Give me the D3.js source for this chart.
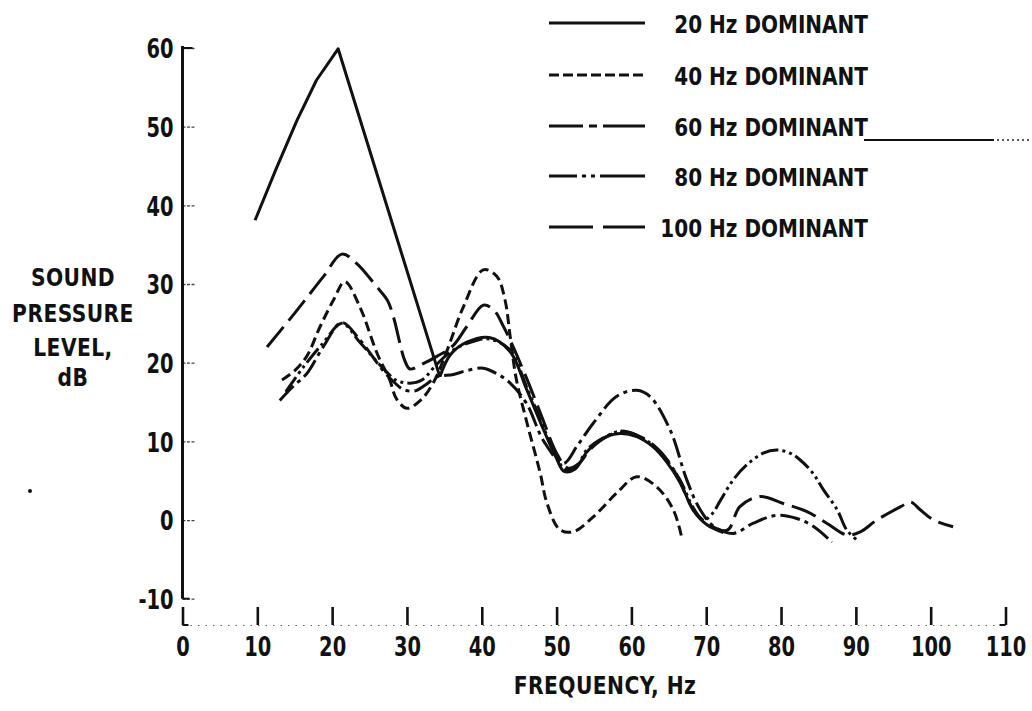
<!DOCTYPE html>
<html>
<head>
<meta charset="utf-8">
<script src="https://cdn.jsdelivr.net/npm/d3@7"></script>
<style>
  html, body { margin: 0; padding: 0; background: #fff; }
  svg { display: block; }
  text { font-family: 'DejaVu Sans Condensed', 'DejaVu Sans', sans-serif; font-weight: bold; fill: #111; }
</style>
</head>
<body>
<svg id="chart" width="1032" height="711"></svg>
<script>
// ---------- data (frequency Hz, sound pressure level dB) ----------
const xTicks = [0, 10, 20, 30, 40, 50, 60, 70, 80, 90, 100, 110];
const yTicks = [-10, 0, 10, 20, 30, 40, 50, 60];
const legendLabels = ["20 Hz DOMINANT", "40 Hz DOMINANT", "60 Hz DOMINANT", "80 Hz DOMINANT", "100 Hz DOMINANT"];
const yTitle = ["SOUND", "PRESSURE", "LEVEL,", "dB"];
const xTitle = "FREQUENCY, Hz";

// 20 Hz dominant: straight-segment part, then smooth part
const s20a = [[9.7,38.1],[12.5,44.6],[15.3,50.8],[17.9,55.9],[20.8,59.9],[34.4,18.2]];
const s20b = [[34.4,18.2],[35.8,21],[38,22.6],[41,23.2],[43.8,21.4],[46,16.6],[48.2,11.6],[50,7.8],[51,6.2],[52.5,6.5],[54,8.6],[56,10.3],[58.5,11],[60.7,10.6],[62.9,9.3],[64.7,7.4],[66.5,4.8],[68.3,1.2],[70.1,-0.6],[72.3,-1.6]];
const s40 = [[13.3,17.8],[15,19],[16.6,20.8],[18.4,24.6],[20.2,28],[21.7,30.3],[23.7,27.1],[26,21.2],[27.7,17.8],[28.6,15.4],[30,14.2],[31.8,15.2],[33.5,17.4],[35.3,21.4],[37.5,27],[40.2,31.8],[42,31],[43.1,28],[43.8,23.3],[44.6,18],[46,12.5],[47.8,6],[48.7,2.2],[50.4,-1.2],[52.2,-1.5],[54.9,0.4],[58,3.4],[60.7,5.5],[63.4,4.2],[65.6,1.3],[66.7,-2.1]];
const s60 = [[13,15.2],[14.8,17],[16.6,18.6],[18.8,22],[21.3,25.1],[23.7,22.9],[26.8,19],[28.2,17.6],[29.5,16.6],[31,16.4],[32.5,17.2],[34,18.2],[36.2,18.5],[38,19],[40.2,19.3],[42,18.6],[43.8,17.4],[46,14.8],[48.3,10],[50.9,7.2],[52.8,9.5],[54.9,12.3],[58,15.7],[60.7,16.5],[62.5,15.7],[65.2,11.4],[67.4,5.1],[69.2,1.3],[71,-0.8],[73.6,-1.7],[76.3,-0.4],[79.4,0.6],[82.1,0.2],[84.3,-0.8],[86.8,-2.8]];
const s80 = [[13.8,16.3],[16.2,19.5],[18.8,22.5],[21.3,25],[23.7,22.6],[26.8,19.3],[28.5,17.8],[30.4,17.4],[32,17.8],[34,19.8],[36,21.5],[38.5,22.6],[41,23],[43.8,21.6],[46,16.9],[48.2,11.9],[50,8],[51.2,6.4],[52.8,7],[54,8.9],[55.8,10.2],[58.5,11.3],[60.7,10.8],[62.9,9.5],[64.7,7.6],[66.5,5.1],[68.3,1.5],[69.6,0],[70.8,0.8],[71.9,2.5],[73.6,5.1],[75.4,7],[77.6,8.5],[79.4,8.9],[81.2,8.5],[82.6,7.6],[84.3,5.9],[85.7,3.8],[87.5,1.3],[88.8,-1.3],[90.1,-2.5]];
const s100 = [[11.3,22],[15,26.3],[18.8,30.9],[21.3,33.8],[23.3,32.6],[26,29.6],[27.4,27.9],[28.2,25.8],[29.7,20.3],[30.4,19.2],[32,19.8],[34,20.8],[36.2,22.2],[38,24.6],[40.2,27.3],[41.6,26.7],[42.9,24.6],[44.2,22],[46,18],[48,13.2],[50,8.5],[51.5,6.6],[53,7.2],[54.5,9],[56.7,10.6],[58.5,11.2],[60.7,10.8],[63,9.5],[65,7.4],[66.5,4.8],[68.3,1.3],[70.1,-0.4],[72.8,-1.3],[74.5,1.7],[77.2,3],[80.3,2.1],[83.4,1.1],[86.1,-0.4],[88.8,-1.9],[90.6,-1.5],[92.8,0],[96,1.7],[97.3,2.3],[98.6,1.3],[100.4,0],[103,-0.85]];

// ---------- drawing ----------
const svg = d3.select("#chart");
const x = d3.scaleLinear().domain([0, 110]).range([182.5, 1005.5]);
const y = d3.scaleLinear().domain([-10, 60]).range([598.7, 48]);

// horizontally condense text (keeps it real text)
function squeeze(sel, sx) {
  sel.each(function () {
    const t = d3.select(this);
    const tx = +t.attr("x") || 0, ty = +t.attr("y") || 0;
    t.attr("x", 0).attr("y", 0).attr("transform", `translate(${tx},${ty}) scale(${sx},1)`);
  });
}

const dashes = { s40: "10,5", s60: "20,5,4,5", s80: "18,4,3,4,3,4", s100: "26,8" };
const legendDashes = [null, "10,4", "34,6,8,6,42", "28,5,4,5,4,5,45", "44,10,42"];

// y axis (ticks to the right, labels left)
const yAxis = d3.axisLeft(y).tickValues(yTicks).tickSizeInner(-13).tickSizeOuter(0).tickPadding(9).tickFormat(d3.format("d"));
const gy = svg.append("g").attr("transform", `translate(${x(0)},0)`).call(yAxis);
gy.select(".domain").remove();
gy.selectAll(".tick line").attr("stroke", "#444").attr("stroke-width", 1.3).attr("stroke-dasharray", "3,1.5");
gy.selectAll(".tick text").style("font-size", "27px").attr("fill", "#111").attr("dy", "0.36em")
  .text(d => d < 0 ? "-" + Math.abs(d) : d);
squeeze(gy.selectAll(".tick text"), 0.8);
svg.append("line").attr("x1", x(0)).attr("x2", x(0)).attr("y1", y(60) - 2).attr("y2", y(-10))
  .attr("stroke", "#111").attr("stroke-width", 3);
svg.append("line").attr("x1", x(0)).attr("x2", x(0) + 7).attr("y1", y(-10)).attr("y2", y(-10))
  .attr("stroke", "#111").attr("stroke-width", 2);
svg.append("line").attr("x1", x(0)).attr("x2", x(0) + 10).attr("y1", y(60)).attr("y2", y(60))
  .attr("stroke", "#111").attr("stroke-width", 2);

// x axis (ticks upward, labels below)
const xBase = 625;
const xAxis = d3.axisBottom(x).tickValues(xTicks).tickSizeInner(-18).tickSizeOuter(0).tickPadding(12).tickFormat(d3.format("d"));
const gx = svg.append("g").attr("transform", `translate(0,${xBase})`).call(xAxis);
gx.select(".domain").attr("stroke", "#666").attr("stroke-width", 1.2).attr("stroke-dasharray", "1.5,6");
gx.selectAll(".tick line").attr("stroke", "#111").attr("stroke-width", 2.6);
gx.selectAll(".tick text").style("font-size", "27px").attr("fill", "#111");
squeeze(gx.selectAll(".tick text"), 0.8);
svg.append("line").attr("x1", x(0)).attr("x2", x(0) + 6).attr("y1", xBase).attr("y2", xBase).attr("stroke", "#111").attr("stroke-width", 2);
svg.append("line").attr("x1", x(110) - 6).attr("x2", x(110)).attr("y1", xBase).attr("y2", xBase).attr("stroke", "#111").attr("stroke-width", 2);

// axis titles
const yt = svg.append("g").selectAll("text").data(yTitle).join("text")
  .attr("x", 73).attr("y", (d, i) => [286, 322, 356, 386][i])
  .attr("text-anchor", "middle").style("font-size", "25px").style("letter-spacing", "0.5px")
  .text(d => d);
squeeze(yt, 0.9);
const xt = svg.append("text").attr("x", 605).attr("y", 694).attr("text-anchor", "middle")
  .style("font-size", "25px").style("letter-spacing", "0.5px").text(xTitle);
squeeze(xt, 0.9);

// curves
const lineSmooth = d3.line().x(d => x(d[0])).y(d => y(d[1])).curve(d3.curveCatmullRom.alpha(0.5));
const lineStraight = d3.line().x(d => x(d[0])).y(d => y(d[1])).curve(d3.curveLinear);
const g = svg.append("g").attr("fill", "none").attr("stroke", "#111").attr("stroke-width", 3)
  .attr("stroke-linecap", "butt").attr("stroke-linejoin", "round");
g.append("path").attr("d", lineStraight(s20a));
g.append("path").attr("d", lineSmooth(s20b));
g.append("path").attr("d", lineSmooth(s40)).attr("stroke-dasharray", dashes.s40);
g.append("path").attr("d", lineSmooth(s60)).attr("stroke-dasharray", dashes.s60);
g.append("path").attr("d", lineSmooth(s80)).attr("stroke-dasharray", dashes.s80);
g.append("path").attr("d", lineSmooth(s100)).attr("stroke-dasharray", dashes.s100);

// legend
const rowY = [24, 76, 127, 177, 228];
const lg = svg.append("g");
legendLabels.forEach((lab, i) => {
  lg.append("line").attr("x1", 549).attr("x2", 645).attr("y1", rowY[i] - 1).attr("y2", rowY[i] - 1)
    .attr("stroke", "#111").attr("stroke-width", 3).attr("stroke-dasharray", legendDashes[i]);
  const t = lg.append("text").attr("x", 868).attr("y", rowY[i] + 9).attr("text-anchor", "end")
    .style("font-size", "25px").text(lab);
  squeeze(t, 0.89);
});
// stray rule after "60 Hz DOMINANT"
svg.append("line").attr("x1", 864).attr("x2", 994).attr("y1", 140).attr("y2", 140).attr("stroke", "#111").attr("stroke-width", 2);
svg.append("line").attr("x1", 997).attr("x2", 1032).attr("y1", 140).attr("y2", 140).attr("stroke", "#222").attr("stroke-width", 1.6).attr("stroke-dasharray", "2,3");
// stray speck
svg.append("circle").attr("cx", 30).attr("cy", 491).attr("r", 2).attr("fill", "#111");
</script>
</body>
</html>
